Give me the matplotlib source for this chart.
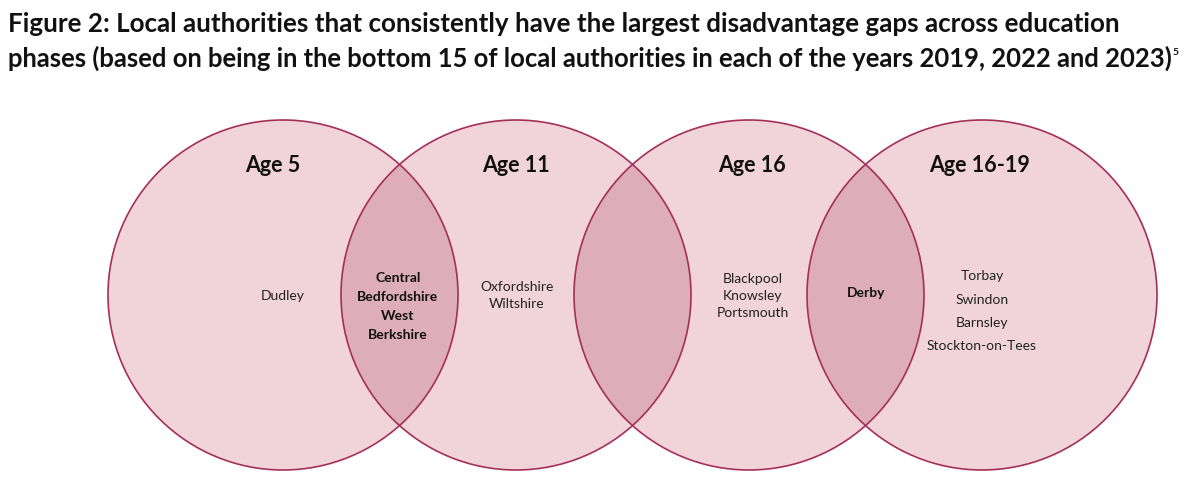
import matplotlib
import matplotlib.pyplot as plt
from matplotlib.patches import Circle

matplotlib.use('Agg')

title_lines = [
    'Figure 2: Local authorities that consistently have the largest disadvantage gaps across education',
    'phases (based on being in the bottom 15 of local authorities in each of the years 2019, 2022 and 2023)',
]
footnote_mark = '5'
phases = ['Age 5', 'Age 11', 'Age 16', 'Age 16-19']
only_in_phase = [
    ['Dudley'],
    ['Oxfordshire', 'Wiltshire'],
    ['Blackpool', 'Knowsley', 'Portsmouth'],
    ['Torbay', 'Swindon', 'Barnsley', 'Stockton-on-Tees'],
]
# overlaps between neighbouring phases (Age 5/11, Age 11/16, Age 16/16-19)
shared = [
    ['Central', 'Bedfordshire', 'West', 'Berkshire'],
    [],
    ['Derby'],
]

fill_light = '#f0d4da'
fill_dark = '#ddadb9'
edge = '#a52f58'

centres_x = [283, 516, 749, 982]
centre_y = 295
radius = 175

fig = plt.figure(figsize=(12, 4.88), dpi=100)
ax = fig.add_axes([0, 0, 1, 1])
ax.set_xlim(0, 1200)
ax.set_ylim(488, 0)
ax.axis('off')

circles = []
for cx in centres_x:
    c = Circle((cx, centre_y), radius, facecolor=fill_light, edgecolor='none', zorder=1)
    ax.add_patch(c)
    circles.append(c)

# darker lens where neighbouring circles overlap
for i in range(len(centres_x) - 1):
    lens = Circle((centres_x[i + 1], centre_y), radius, facecolor=fill_dark, edgecolor='none', zorder=2)
    ax.add_patch(lens)
    lens.set_clip_path(circles[i])

for cx in centres_x:
    ax.add_patch(Circle((cx, centre_y), radius, facecolor='none', edgecolor=edge, lw=1.2, zorder=3))

body_font = 'Lato'

ax.text(8, 32, title_lines[0], fontsize=18.7, fontweight='bold', family='Lato',
        va='baseline', ha='left', color='#111111')
t2 = ax.text(8, 67, title_lines[1], fontsize=18.45, fontweight='bold', family='Lato',
             va='baseline', ha='left', color='#111111')

# superscript footnote mark right after the second title line
fig.canvas.draw()
bb = t2.get_window_extent(fig.canvas.get_renderer())
x_end = ax.transData.inverted().transform((bb.x1, bb.y0))[0]
ax.text(x_end + 1, 55, footnote_mark, fontsize=7.5, fontweight='bold', family='Lato',
        va='baseline', ha='left', color='#111111')

label_x = [273, 516, 752, 980]
for x, name in zip(label_x, phases):
    ax.text(x, 166, name, fontsize=15.5, fontweight='bold', family=body_font,
            ha='center', va='center', color='#111111', zorder=4)

line_gap = [0, 17, 17, 23.5]
only_x = [283, 517, 753, 982]
only_top = [296, 287, 279, 276]
for i, names in enumerate(only_in_phase):
    for j, n in enumerate(names):
        ax.text(only_x[i], only_top[i] + j * line_gap[i], n, fontsize=10, family=body_font,
                ha='center', va='center', color='#222222', zorder=4)

shared_x = [398, 633, 866]
shared_top = [278, 295, 293]
for i, names in enumerate(shared):
    for j, n in enumerate(names):
        ax.text(shared_x[i], shared_top[i] + j * 19, n, fontsize=10, fontweight='bold', family=body_font,
                ha='center', va='center', color='#111111', zorder=4)

fig.savefig('out.png', dpi=100, facecolor='white')
